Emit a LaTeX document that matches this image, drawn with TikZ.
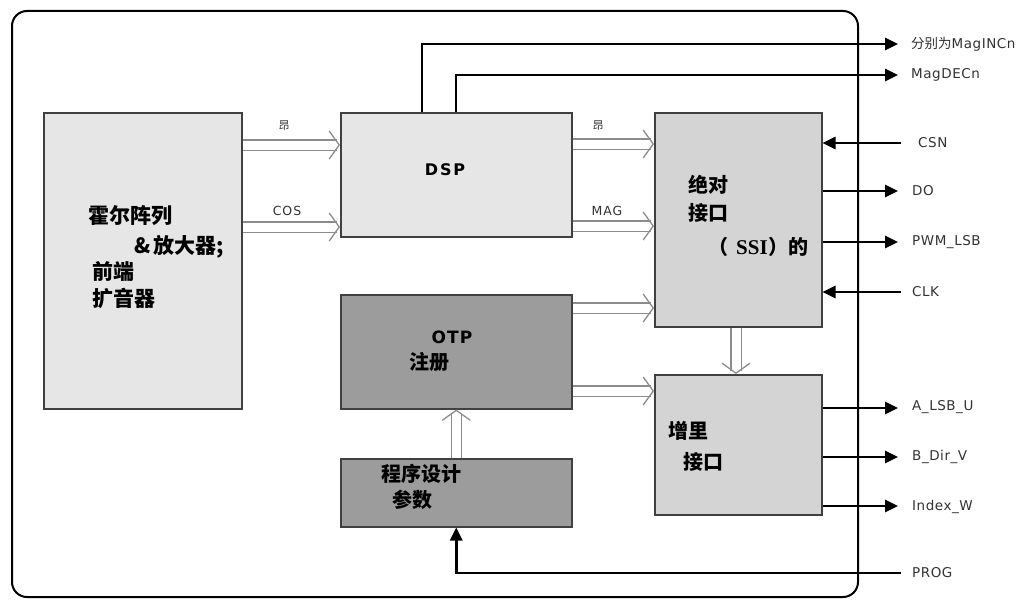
\documentclass[tikz,border=0pt]{standalone}
\usepackage{fontspec}
\setmainfont{DejaVu Sans}
\newfontfamily\cjk{Noto Sans CJK SC}
\newfontfamily\serifb{Liberation Serif}
\usetikzlibrary{arrows.meta}
\definecolor{lightbox}{HTML}{E6E6E6}
\definecolor{midbox}{HTML}{D4D4D4}
\definecolor{darkbox}{HTML}{9C9C9C}
\definecolor{edge}{HTML}{404040}
\definecolor{hol}{HTML}{8C8C8C}
\definecolor{lbl}{HTML}{333333}
\begin{document}
\begin{tikzpicture}[x=1pt,y=-1pt,
  blk/.style={draw=edge, line width=1.5pt, inner sep=0pt, anchor=north west},
  cjkt/.style={font=\cjk\bfseries\fontsize{20}{22}\selectfont, inner sep=0pt, anchor=west},
  hollow/.style={
    preaction={draw=hol, line width=11.5pt, shorten >=3pt, arrows=-},
    preaction={draw=white, line width=9pt, shorten >=1pt, arrows=-},
    draw=white, line width=1.3pt,
    -{Straight Barb[length=10pt,width=28pt,line width=1.3pt,color=hol]}},
  sig/.style={line width=2.6pt, -{Triangle[length=13pt,width=12pt]}},
  rlbl/.style={font=\fontsize{13.5}{15}\selectfont\addfontfeatures{LetterSpace=4}, text=lbl, inner sep=0pt, anchor=west},
  slbl/.style={font=\fontsize{12.5}{14}\selectfont\addfontfeatures{LetterSpace=8}, text=lbl, inner sep=0pt},
]
\useasboundingbox (0,0) rectangle (1030,602);
\fill[white] (0,0) rectangle (1030,602);
% outer frame
\draw[line width=2pt, rounded corners=15pt] (12,11) rectangle (858,597);

% blocks
\node[blk, fill=lightbox, minimum width=198pt, minimum height=296pt] (hall) at (43,112) {};
\node[blk, fill=lightbox, minimum width=231pt, minimum height=124pt] (dsp) at (340,112) {};
\node[blk, fill=midbox, minimum width=167pt, minimum height=214pt] (abs) at (654,112) {};
\node[blk, fill=darkbox, minimum width=231pt, minimum height=114pt] (otp) at (340,294) {};
\node[blk, fill=midbox, minimum width=167pt, minimum height=140pt] (inc) at (654,374) {};
\node[blk, fill=darkbox, minimum width=231pt, minimum height=68pt] (prog) at (340,458) {};

% block texts
\node[cjkt, font=\cjk\bfseries\fontsize{21}{23}\selectfont] (h1) at (88,216) {霍尔阵列};
\node[cjkt, font=\cjk\bfseries\fontsize{21}{23}\selectfont] (h2) at (134,247) {\&\,放大器;};
\node[cjkt, font=\cjk\bfseries\fontsize{21}{23}\selectfont] (h3) at (92,272) {前端};
\node[cjkt, font=\cjk\bfseries\fontsize{21}{23}\selectfont] (h4) at (92,298) {扩音器};
\node[font=\bfseries\fontsize{16}{18}\selectfont\addfontfeatures{LetterSpace=12}, inner sep=0pt] (dspt) at (445,170) {DSP};
\node[cjkt] (a1) at (688,185) {绝对};
\node[cjkt] (a2) at (688,213) {接口};
\node[cjkt] (a3) at (708,247) {（\hspace{8pt}{\serifb\bfseries\fontsize{21}{23}\selectfont SSI}\hspace{1pt}）的};
\node[font=\bfseries\fontsize{17}{19}\selectfont\addfontfeatures{LetterSpace=6}, inner sep=0pt] (otpt) at (452,337) {OTP};
\node[cjkt] (o1) at (409,362) {注册};
\node[cjkt] (i1) at (668,431) {增里};
\node[cjkt] (i2) at (683,462) {接口};
\node[cjkt] (p1) at (381,474) {程序设计};
\node[cjkt] (p2) at (392,500) {参数};

% hollow arrows
\draw[hollow] (hall.east |- 0,145) -- (dsp.west |- 0,145);
\draw[hollow] (hall.east |- 0,227) -- (dsp.west |- 0,227);
\draw[hollow] (dsp.east |- 0,144) -- (abs.west |- 0,144);
\draw[hollow] (dsp.east |- 0,226) -- (abs.west |- 0,226);
\draw[hollow] (otp.east |- 0,308) -- (abs.west |- 0,308);
\draw[hollow] (otp.east |- 0,391) -- (inc.west |- 0,391);
\draw[hollow] (abs.south -| 736,0) -- (inc.north -| 736,0);
\draw[hollow] (prog.north) -- (otp.south);

\node[slbl, font=\cjk\fontsize{11}{13}\selectfont] (s1) at (284,126) {昂};
\node[slbl] (cos) at (287,211) {COS};
\node[slbl, font=\cjk\fontsize{11}{13}\selectfont] (s2) at (598,126) {昂};
\node[slbl] (mag) at (607,211) {MAG};

% right side endpoints
\coordinate (oINC) at (898,44);
\coordinate (oDEC) at (898,75);
\coordinate (iCSN) at (901,143);
\coordinate (oDO) at (898,191);
\coordinate (oPWM) at (898,242);
\coordinate (iCLK) at (901,292);
\coordinate (oA) at (898,408);
\coordinate (oB) at (898,457);
\coordinate (oIdx) at (898,506);
\coordinate (iPROG) at (901,573);

% black connectors
\draw[sig] ([xshift=82pt]dsp.north west) |- (oINC);
\draw[sig] ([xshift=116pt]dsp.north west) |- (oDEC);
\draw[sig] (iCSN) -- (iCSN -| abs.east);
\draw[sig] (oDO -| abs.east) -- (oDO);
\draw[sig] (oPWM -| abs.east) -- (oPWM);
\draw[sig] (iCLK) -- (iCLK -| abs.east);
\draw[sig] (oA -| inc.east) -- (oA);
\draw[sig] (oB -| inc.east) -- (oB);
\draw[sig] (oIdx -| inc.east) -- (oIdx);
\draw[sig] (iPROG) -| (prog.south);

% right labels
\node[rlbl] (l1) at (911,44) {{\cjk 分别为}MagINCn};
\node[rlbl] (l2) at (911,75) {MagDECn};
\node[rlbl] (l3) at (918,143) {CSN};
\node[rlbl] (l4) at (912,191) {DO};
\node[rlbl] (l5) at (912,242) {PWM\_LSB};
\node[rlbl] (l6) at (912,292) {CLK};
\node[rlbl] (l7) at (912,407) {A\_LSB\_U};
\node[rlbl] (l8) at (912,457) {B\_Dir\_V};
\node[rlbl] (l9) at (912,507) {Index\_W};
\node[rlbl] (l10) at (912,573) {PROG};
\end{tikzpicture}
\end{document}
